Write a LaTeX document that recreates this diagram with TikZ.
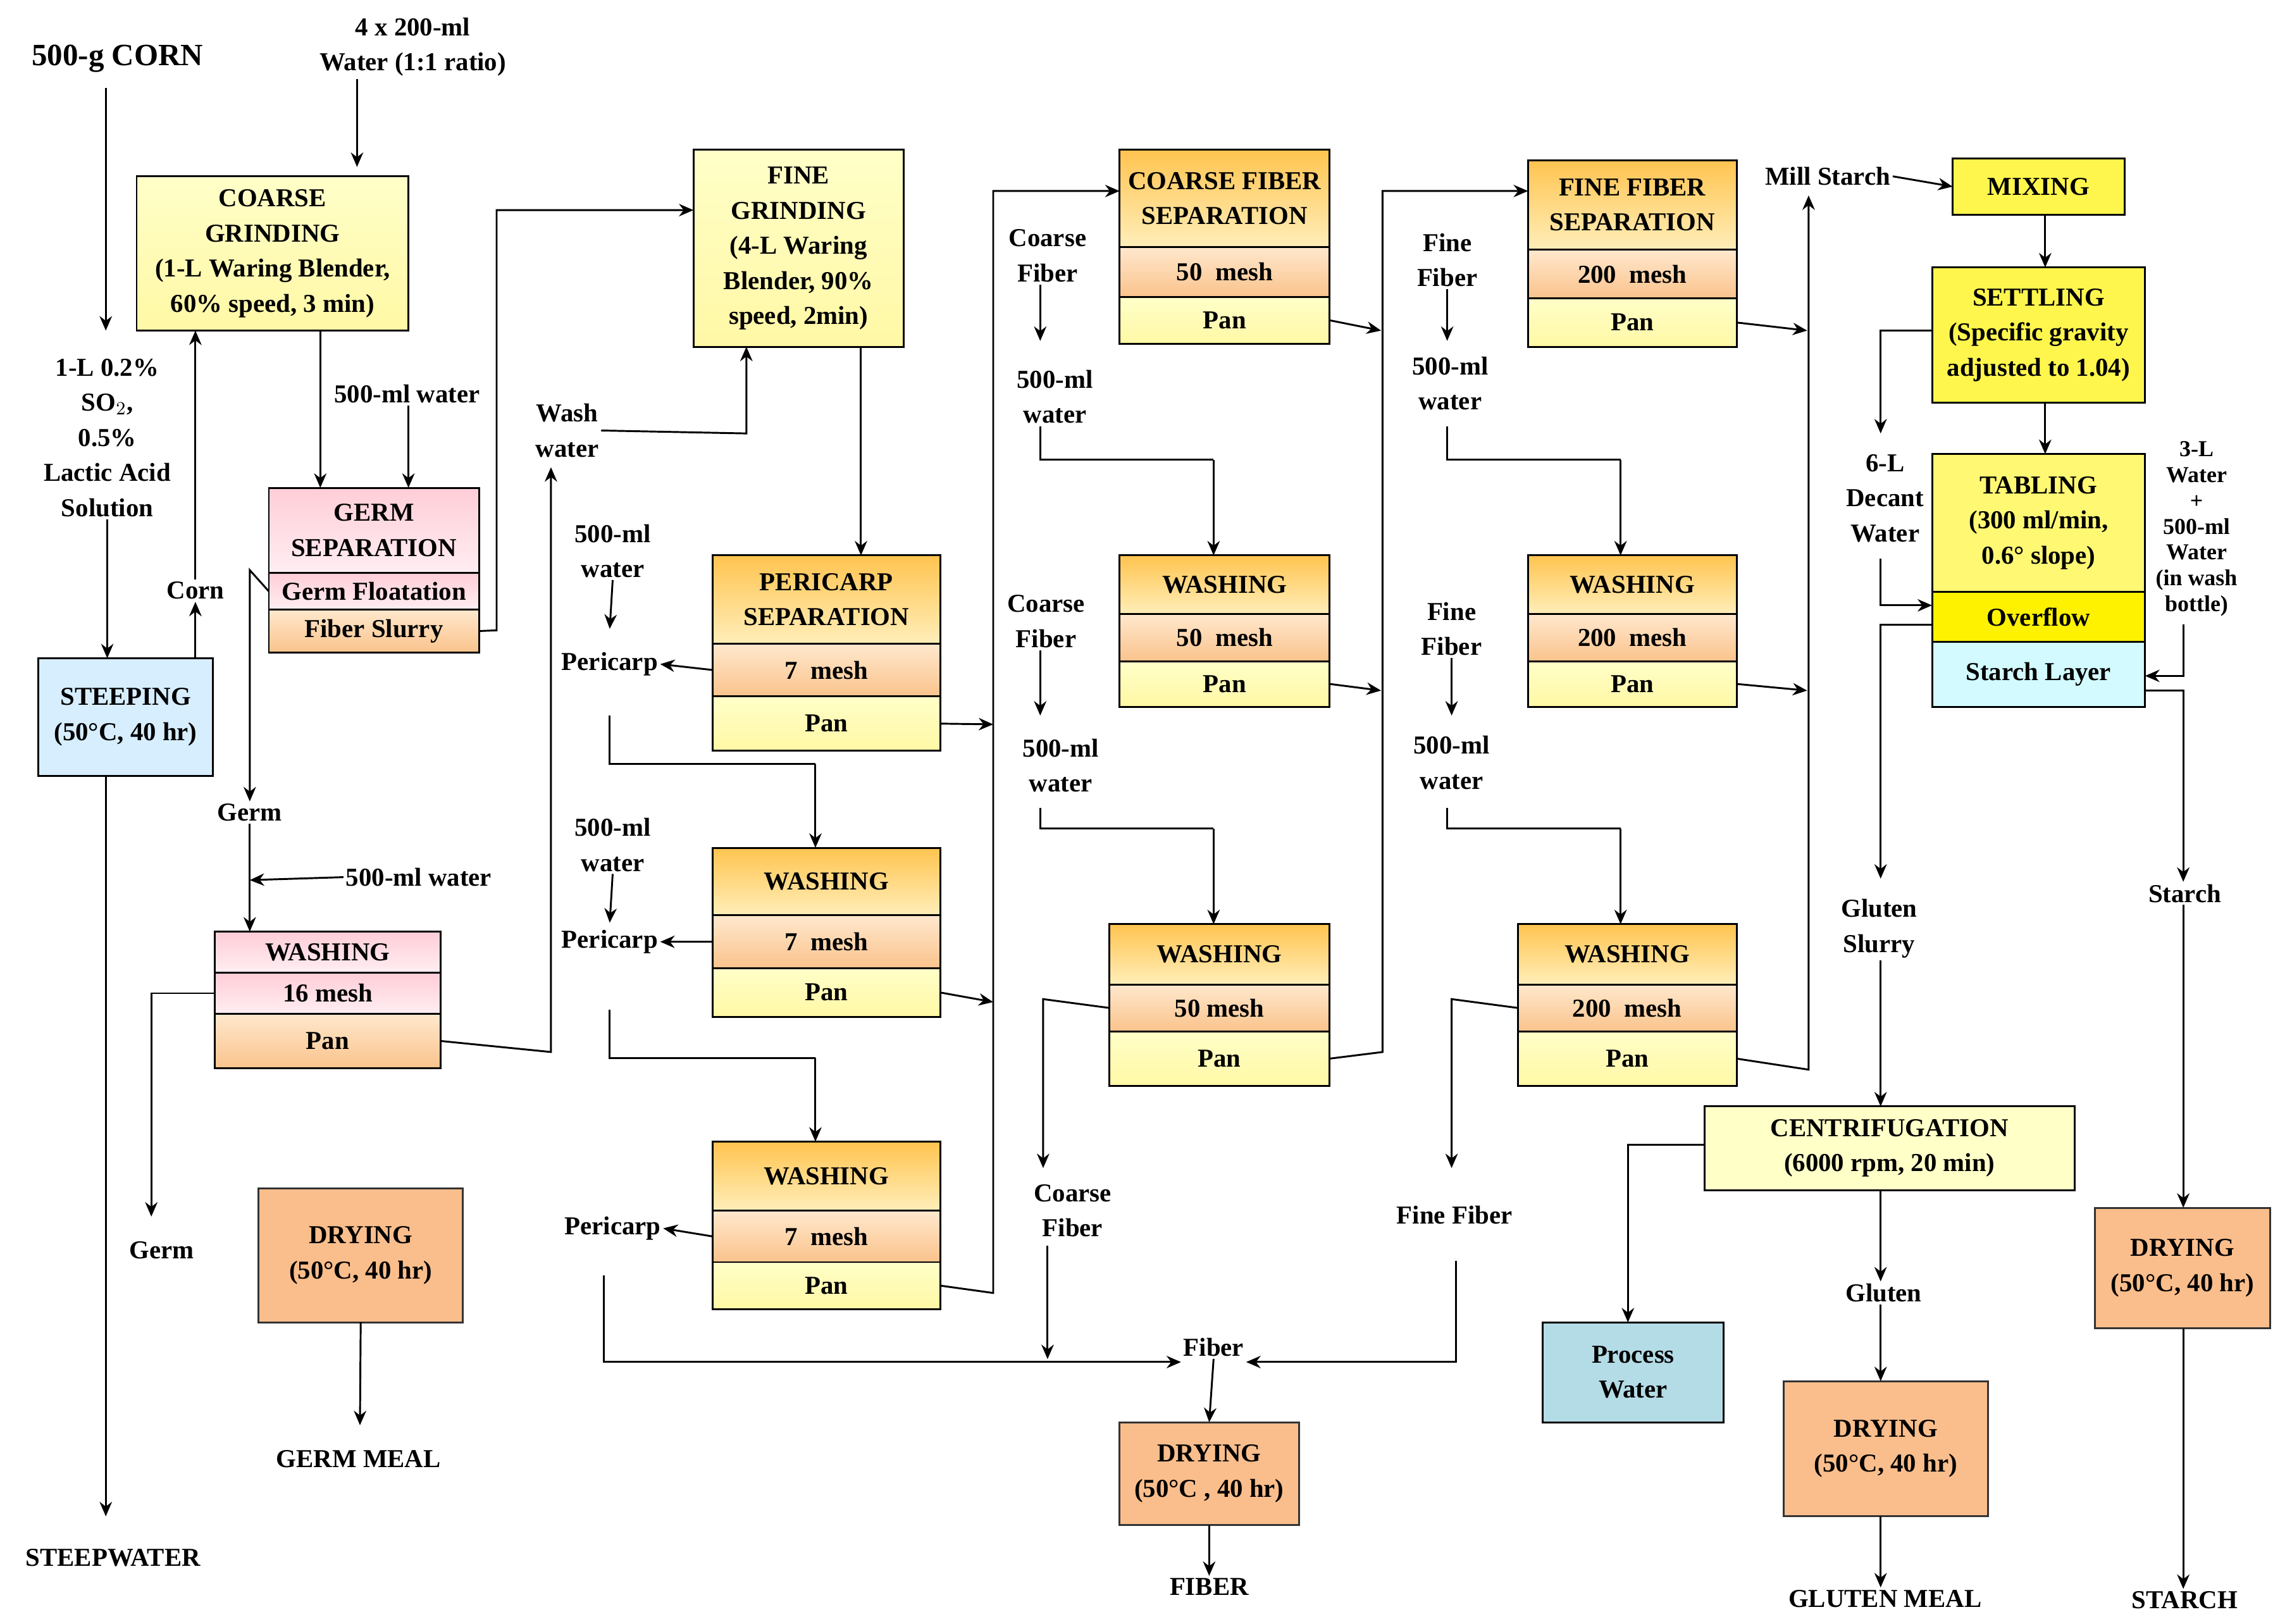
\documentclass[tikz,border=0pt]{standalone}
\usepackage{fontspec}
\setmainfont{Liberation Serif}
\usetikzlibrary{arrows.meta}
\definecolor{yl}{RGB}{255,255,200}
\definecolor{yl2}{RGB}{255,248,165}
\definecolor{orT}{RGB}{255,196,80}
\definecolor{orB}{RGB}{255,238,185}
\definecolor{pkT}{RGB}{255,205,215}
\definecolor{pkB}{RGB}{255,238,242}
\definecolor{peT}{RGB}{255,232,205}
\definecolor{peB}{RGB}{250,195,140}
\definecolor{dry}{RGB}{250,190,140}
\definecolor{stp}{RGB}{215,238,255}
\definecolor{pw}{RGB}{180,220,230}
\definecolor{cy}{RGB}{210,250,255}
\newcommand\bx[7]{\pgfmathsetmacro\bw{(#4-#2)*0.025}\pgfmathsetmacro\bh{(#5-#3)*0.025}%
\node[box,#6,minimum width=\bw cm,minimum height=\bh cm] (#1) at ({(#2+#4)/2},{(#3+#5)/2}) {#7};}
\begin{document}
\begin{tikzpicture}[x=0.025cm,y=-0.025cm,
 font=\fontsize{12.5}{17}\selectfont\bfseries,
 box/.style={draw,line width=0.9pt,inner sep=0pt,outer sep=0pt,align=center},
 Y/.style={top color=yl,bottom color=yl2},
 O/.style={top color=orT,bottom color=orB},
 P/.style={top color=pkT,bottom color=pkB},
 E/.style={top color=peT,bottom color=peB},
 D/.style={fill=dry,draw=black!80},
 t/.style={align=center,inner sep=1pt},
 a/.style={-{Stealth[length=7pt,width=6pt]},line width=0.9pt},
 l/.style={line width=0.9pt}]
\useasboundingbox (0,0) rectangle (1560,1105);
% texts
\node[t,font=\fontsize{15}{18}\selectfont\bfseries] (corn) at (80,40) {500-g CORN};
\node[t] (w4) at (281,32) {4 x 200-ml\\Water (1:1 ratio)};
\node[t] (so2) at (73,298) {1-L 0.2\%\\SO$_2$,\\0.5\%\\Lactic Acid\\Solution};
\node[t] (cornt) at (133,402) {Corn};
\node[t] (stw) at (77,1060) {STEEPWATER};
\node[t] (w5a) at (277,268) {500-ml water};
\node[t] (germ1) at (170,553) {Germ};
\node[t] (w5b) at (285,597) {500-ml water};
\node[t] (germ2) at (110,851) {Germ};
\node[t] (wash) at (386,293) {Wash\\water};
\node[t] (gm) at (244,993) {GERM MEAL};
\node[t] (pw1) at (417,375) {500-ml\\water};
\node[t] (pc1) at (415,452) {Pericarp};
\node[t] (pw2) at (417,575) {500-ml\\water};
\node[t] (pc2) at (415,641) {Pericarp};
\node[t] (pc3) at (417,836) {Pericarp};
\node[t] (fib) at (826,917) {Fiber};
\node[t] (FIB) at (823,1080) {FIBER};
\node[t] (cf1) at (713,174) {Coarse\\Fiber};
\node[t] (cw1) at (718,270) {500-ml\\water};
\node[t] (cf2) at (712,423) {Coarse\\Fiber};
\node[t] (cw2) at (722,521) {500-ml\\water};
\node[t] (cf3) at (730,824) {Coarse\\Fiber};
\node[t] (ff1) at (985,177) {Fine\\Fiber};
\node[t] (fw1) at (987,261) {500-ml\\water};
\node[t] (ff2) at (988,428) {Fine\\Fiber};
\node[t] (fw2) at (988,519) {500-ml\\water};
\node[t] (ff3) at (990,827) {Fine Fiber};
\node[t] (mill) at (1244,120) {Mill Starch};
\node[t] (dec) at (1283,339) {6-L\\Decant\\Water};
\node[t,font=\fontsize{11}{12.5}\selectfont\bfseries] (tw) at (1495,360) {3-L\\Water\\+\\500-ml\\Water\\(in wash\\bottle)};
\node[t] (gs) at (1279,632) {Gluten\\Slurry};
\node[t] (st) at (1487,608) {Starch};
\node[t] (glu) at (1282,880) {Gluten};
\node[t] (GM) at (1283,1088) {GLUTEN MEAL};
\node[t] (ST) at (1487,1089) {STARCH};
% boxes
\bx{cg}{93}{120}{278}{225}{Y}{COARSE\\GRINDING\\(1-L Waring Blender,\\60\% speed, 3 min)}
\bx{stp}{26}{448}{145}{528}{fill=stp}{STEEPING\\(50\textdegree C, 40 hr)}
\bx{gsT}{183}{332}{326}{390}{P}{GERM\\SEPARATION}
\bx{gsF}{183}{390}{326}{415}{P}{Germ Floatation}
\bx{gsS}{183}{415}{326}{444}{E}{Fiber Slurry}
\bx{gwT}{146}{634}{300}{662}{P}{WASHING}
\bx{gwM}{146}{662}{300}{690}{P}{16 mesh}
\bx{gwP}{146}{690}{300}{727}{E}{Pan}
\bx{dg}{176}{809}{315}{900}{D}{DRYING\\(50\textdegree C, 40 hr)}
\bx{fg}{472}{102}{615}{236}{Y}{FINE\\GRINDING\\(4-L Waring\\Blender, 90\%\\speed, 2min)}
\bx{psT}{485}{378}{640}{438}{O}{PERICARP\\SEPARATION}
\bx{psM}{485}{438}{640}{474}{E}{7\ \ mesh}
\bx{psP}{485}{474}{640}{511}{Y}{Pan}
\bx{w1T}{485}{577}{640}{623}{O}{WASHING}
\bx{w1M}{485}{623}{640}{659}{E}{7\ \ mesh}
\bx{w1P}{485}{659}{640}{692}{Y}{Pan}
\bx{w2T}{485}{777}{640}{824}{O}{WASHING}
\bx{w2M}{485}{824}{640}{859}{E}{7\ \ mesh}
\bx{w2P}{485}{859}{640}{891}{Y}{Pan}
\bx{cfT}{762}{102}{905}{168}{O}{COARSE FIBER\\SEPARATION}
\bx{cfM}{762}{168}{905}{202}{E}{50\ \ mesh}
\bx{cfP}{762}{202}{905}{234}{Y}{Pan}
\bx{c1T}{762}{378}{905}{418}{O}{WASHING}
\bx{c1M}{762}{418}{905}{450}{E}{50\ \ mesh}
\bx{c1P}{762}{450}{905}{481}{Y}{Pan}
\bx{c2T}{755}{629}{905}{670}{O}{WASHING}
\bx{c2M}{755}{670}{905}{702}{E}{50 mesh}
\bx{c2P}{755}{702}{905}{739}{Y}{Pan}
\bx{dfb}{762}{968}{884}{1038}{D}{DRYING\\(50\textdegree C , 40 hr)}
\bx{ffT}{1040}{109}{1182}{170}{O}{FINE FIBER\\SEPARATION}
\bx{ffM}{1040}{170}{1182}{203}{E}{200\ \ mesh}
\bx{ffP}{1040}{203}{1182}{236}{Y}{Pan}
\bx{f1T}{1040}{378}{1182}{418}{O}{WASHING}
\bx{f1M}{1040}{418}{1182}{450}{E}{200\ \ mesh}
\bx{f1P}{1040}{450}{1182}{481}{Y}{Pan}
\bx{f2T}{1033}{629}{1182}{670}{O}{WASHING}
\bx{f2M}{1033}{670}{1182}{702}{E}{200\ \ mesh}
\bx{f2P}{1033}{702}{1182}{739}{Y}{Pan}
\bx{mix}{1329}{108}{1446}{146}{fill=yellow!70!white}{MIXING}
\bx{set}{1315}{182}{1460}{274}{fill=yellow!70!white}{SETTLING\\(Specific gravity\\adjusted to 1.04)}
\bx{tbT}{1315}{309}{1460}{403}{fill=yellow!55!white}{TABLING\\(300 ml/min,\\0.6\textdegree\ slope)}
\bx{tbO}{1315}{403}{1460}{437}{fill=yellow}{Overflow}
\bx{tbS}{1315}{437}{1460}{481}{fill=cy}{Starch Layer}
\bx{cen}{1160}{753}{1412}{810}{fill=yl}{CENTRIFUGATION\\(6000 rpm, 20 min)}
\bx{pwt}{1050}{900}{1173}{968}{fill=pw}{Process\\Water}
\bx{dgl}{1214}{940}{1353}{1032}{D}{DRYING\\(50\textdegree C, 40 hr)}
\bx{dst}{1426}{822}{1545}{904}{D}{DRYING\\(50\textdegree C, 40 hr)}
% connectors
\draw[a] (72,60) -- (72,225);
\draw[a] (w4.south -| cg.north east) ++(-35,0) -- ++(0,60);
\draw[a] (so2.south) -- (stp.north -| so2.south);
\draw[a] (stp.north -| cornt) -- (cornt.south);
\draw[a] (cornt.north) -- (cg.south -| cornt);
\draw[a] (stp.south -| 72,0) -- (72,1032);
\draw[a] (218,225) -- (218,332);
\draw[a] (w5a.south -| 278,0) -- (278,332);
\draw[a] (gsF.west) -- (170,388) -- (germ1.north);
\draw[a] (gsS.east) -- (338,429) -- (338,143) -- (fg.west |- 0,143);
\draw[a] (germ1.south) -- (gwT.north -| germ1);
\draw[a] (w5b.west) -- (170,599);
\draw[a] (gwM.west) -- (103,676) -- (103,828);
\draw[a] (gwP.east) -- (375,716) -- (375,318);
\draw[a] (wash.east) -- (508,295) -- (fg.south -| 508,0);
\draw[a] (dg.south) -- (245,970);
\draw[a] (586,236) -- (psT.north -| 586,0);
\draw[a] (pw1.south) -- (415,428);
\draw[a] (psM.west) -- (pc1.east);
\draw[l] (415,487) -- (415,520) -- (555,520);
\draw[a] (555,520) -- (w1T.north -| 555,0);
\draw[a] (pw2.south) -- (415,628);
\draw[a] (w1M.west) -- (pc2.east);
\draw[l] (415,687) -- (415,720) -- (555,720);
\draw[a] (555,720) -- (w2T.north -| 555,0);
\draw[a] (w2M.west) -- (pc3.east);
\draw[a] (411,868) -- (411,927) -- (fib.west |- 0,927);
\draw[a] (psP.east) -- (676,493);
\draw[a] (w1P.east) -- (676,682);
\draw[a] (w2P.east) -- (676,880) -- (676,130) -- (cfT.west |- 0,130);
\draw[a] (cf1.south -| 708,0) -- (708,232);
\draw[l] (708,290) -- (708,313) -- (826,313);
\draw[a] (826,313) -- (c1T.north -| 826,0);
\draw[a] (cf2.south -| 708,0) -- (708,487);
\draw[l] (708,550) -- (708,564) -- (826,564);
\draw[a] (826,564) -- (c2T.north -| 826,0);
\draw[a] (c2M.west) -- (710,680) -- (710,795);
\draw[a] (713,848) -- (713,925);
\draw[a] (cfP.east) -- (940,225);
\draw[a] (c1P.east) -- (940,470);
\draw[a] (c2P.east) -- (941,716) -- (941,130) -- (ffT.west |- 0,130);
\draw[a] (ff1.south -| 985,0) -- (985,232);
\draw[l] (985,290) -- (985,313) -- (1103,313);
\draw[a] (1103,313) -- (f1T.north -| 1103,0);
\draw[a] (ff2.south -| 988,0) -- (988,487);
\draw[l] (985,550) -- (985,564) -- (1103,564);
\draw[a] (1103,564) -- (f2T.north -| 1103,0);
\draw[a] (f2M.west) -- (988,680) -- (988,795);
\draw[a] (991,858) -- (991,927) -- (fib.east |- 0,927);
\draw[a] (ffP.east) -- (1230,225);
\draw[a] (f1P.east) -- (1230,470);
\draw[a] (f2P.east) -- (1231,728) -- (1231,133);
\draw[a] (mill.east) -- (mix.west);
\draw[a] (fib.south) -- (dfb.north);
\draw[a] (dfb.south) -- (FIB.north);
\draw[a] (mix.south -| 1392,0) -- (set.north -| 1392,0);
\draw[a] (set.south -| 1392,0) -- (tbT.north -| 1392,0);
\draw[a] (set.west |- 0,225) -- (1280,225) -- (1280,295);
\draw[a] (1280,380) -- (1280,412) -- (tbO.west |- 0,412);
\draw[a] (1486,425) -- (1486,460) -- (tbS.east |- 0,460);
\draw[a] (tbO.west |- 0,425) -- (1280,425) -- (1280,598);
\draw[a] (gs.south -| 1280,0) -- (cen.north -| 1280,0);
\draw[a] (tbS.east |- 0,470) -- (1486,470) -- (st.north -| 1486,0);
\draw[a] (st.south -| 1486,0) -- (dst.north -| 1486,0);
\draw[a] (cen.west |- 0,779) -- (1108,779) -- (pwt.north -| 1108,0);
\draw[a] (cen.south -| 1280,0) -- (glu.north -| 1280,0);
\draw[a] (glu.south -| 1280,0) -- (dgl.north -| 1280,0);
\draw[a] (dgl.south -| 1280,0) -- (GM.north -| 1280,0);
\draw[a] (dst.south -| 1486,0) -- (ST.north -| 1486,0);
\end{tikzpicture}
\end{document}
